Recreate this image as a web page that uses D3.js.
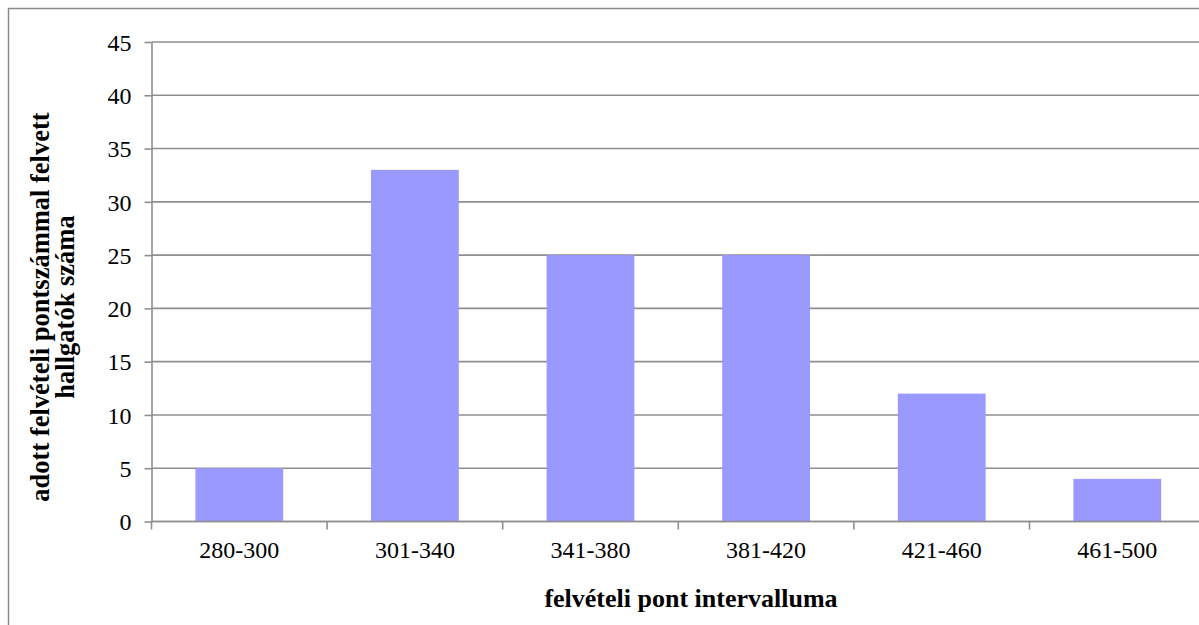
<!DOCTYPE html>
<html><head><meta charset="utf-8">
<script src="https://cdn.jsdelivr.net/npm/d3@7"></script>
<style>html,body{margin:0;padding:0;background:#fff;}svg{display:block;} text{font-family:"Liberation Serif","Times New Roman",serif;}</style>
</head><body>
<svg id="c" width="1199" height="625"></svg>
<script>
const categories = ["280-300","301-340","341-380","381-420","421-460","461-500"];
const values = [5, 33, 25, 25, 12, 4];
const yTicks = [0,5,10,15,20,25,30,35,40,45];
const xTitle = "felvételi pont intervalluma";
const yTitleLines = ["adott felvételi pontszámmal felvett","hallgatók száma"];

(function(){
const svg = d3.select("#c");
const pLeft = 151.5, pRight = 151.5 + 6*175.6, pTop = 42, pBottom = 521.5;
const font = "Liberation Serif";

// outer border
svg.append("rect").attr("x",8.5).attr("y",8.5).attr("width",1300).attr("height",700)
  .attr("fill","none").attr("stroke","#8a8a8a").attr("stroke-width",1.5);

const x = d3.scaleBand().domain(categories).range([pLeft,pRight]).paddingInner(0.5).paddingOuter(0.25);
const y = d3.scaleLinear().domain([0,45]).range([pBottom,pTop]);
const step = x.step();

// gridlines
svg.append("g").selectAll("line").data(yTicks).join("line")
  .attr("x1",pLeft).attr("x2",1199).attr("y1",d=>y(d)).attr("y2",d=>y(d))
  .attr("stroke","#8f8f8f").attr("stroke-width",1.6);

// bars
svg.append("g").selectAll("rect").data(values).join("rect")
  .attr("x",(d,i)=>x(categories[i])).attr("width",x.bandwidth())
  .attr("y",d=>y(d)).attr("height",d=>y(0)-y(d)).attr("fill","#9999FF");

// y axis
const ya = svg.append("g").attr("transform",`translate(${pLeft},0)`)
  .call(d3.axisLeft(y).tickValues(yTicks).tickSize(7).tickSizeOuter(0).tickPadding(13));
ya.attr("font-family",null).attr("font-size",null);
ya.select(".domain").attr("stroke","#8f8f8f").attr("stroke-width",1.6);
ya.selectAll(".tick line").attr("stroke","#8f8f8f").attr("stroke-width",1.6);
ya.selectAll("text").style("font-family",font).style("font-size","24px").attr("fill","#000").attr("dy","0.34em");

// x axis
svg.append("line").attr("x1",pLeft).attr("x2",1199).attr("y1",pBottom).attr("y2",pBottom)
  .attr("stroke","#8f8f8f").attr("stroke-width",1.6);
const bounds = categories.map(c=>x(c)-step*0.25);
svg.append("g").selectAll("line").data(bounds).join("line")
  .attr("x1",d=>d).attr("x2",d=>d).attr("y1",pBottom).attr("y2",pBottom+8)
  .attr("stroke","#8f8f8f").attr("stroke-width",1.6);
svg.append("g").selectAll("text").data(categories).join("text")
  .attr("x",d=>x(d)+x.bandwidth()/2).attr("y",558)
  .attr("text-anchor","middle").style("font-family",font).style("font-size","24px").attr("fill","#000")
  .text(d=>d);

// axis titles
svg.append("text").attr("x",691).attr("y",607).attr("text-anchor","middle")
  .style("font-family",font).style("font-weight","bold").style("font-size","26px").attr("fill","#000").text(xTitle);

const yt = svg.append("text").attr("transform","translate(0,307) rotate(-90)")
  .attr("text-anchor","middle").style("font-family",font).style("font-weight","bold").style("font-size","26.5px").attr("fill","#000");
yTitleLines.forEach((t,i)=>{
  yt.append("tspan").attr("x",0).attr("y",[49,74][i]).text(t);
});
})();
</script>
</body></html>
